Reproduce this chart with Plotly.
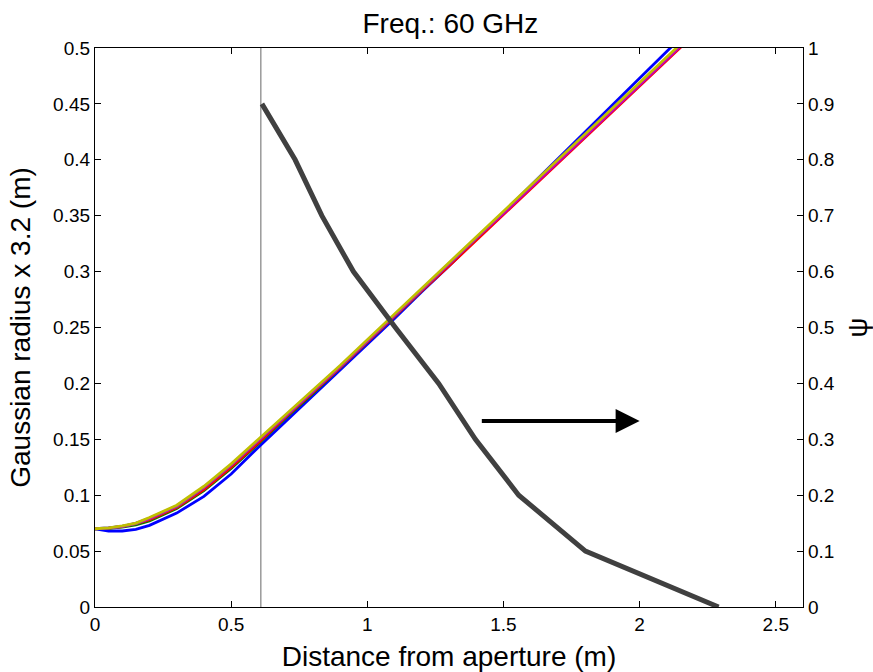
import plotly.graph_objects as go

# Distance from aperture (m) at which the beam radius was sampled
distance = [0.0, 0.05, 0.1, 0.15, 0.2, 0.3, 0.4, 0.5, 0.6, 0.7, 0.8, 0.9, 1.0,
            1.1, 1.2, 1.3, 1.4, 1.5, 1.6, 1.7, 1.8, 1.9, 2.0, 2.1, 2.2]

# Gaussian radius x 3.2 (m) for each fitted beam
radius_b = [0.070, 0.068, 0.068, 0.0695, 0.073, 0.084, 0.099, 0.119, 0.143, 0.166, 0.189,
            0.212, 0.235, 0.258, 0.282, 0.305, 0.329, 0.353, 0.377, 0.401, 0.425,
            0.449, 0.473, 0.497, 0.521]
radius_g = [0.070, 0.0703, 0.0715, 0.0735, 0.077, 0.088, 0.104, 0.124, 0.146, 0.169, 0.191,
            0.214, 0.237, 0.260, 0.283, 0.306, 0.329, 0.352, 0.375, 0.398, 0.421,
            0.444, 0.467, 0.490, 0.513]
radius_r = [0.070, 0.0705, 0.072, 0.0745, 0.078, 0.089, 0.105, 0.125, 0.147, 0.170, 0.192,
            0.214, 0.237, 0.260, 0.283, 0.305, 0.328, 0.351, 0.374, 0.397, 0.420,
            0.443, 0.466, 0.489, 0.512]
radius_c = [0.070, 0.0707, 0.0722, 0.0748, 0.0792, 0.0902, 0.107, 0.127, 0.149, 0.171, 0.193,
            0.215, 0.238, 0.261, 0.284, 0.307, 0.330, 0.353, 0.376, 0.399, 0.422,
            0.445, 0.468, 0.491, 0.514]
radius_m = [0.070, 0.0707, 0.0722, 0.0748, 0.0793, 0.0903, 0.107, 0.127, 0.149, 0.171, 0.193,
            0.215, 0.238, 0.261, 0.284, 0.307, 0.330, 0.352, 0.375, 0.398, 0.421,
            0.444, 0.467, 0.490, 0.513]
radius_y = [0.070, 0.0708, 0.0725, 0.075, 0.080, 0.091, 0.108, 0.128, 0.150, 0.172, 0.194,
            0.216, 0.239, 0.262, 0.285, 0.308, 0.331, 0.354, 0.377, 0.400, 0.423,
            0.446, 0.469, 0.492, 0.515]

# Psi versus distance (right axis)
psi_distance = [0.613, 0.735, 0.833, 0.949, 1.103, 1.262, 1.397, 1.556, 1.801, 2.29]
psi_value = [0.9, 0.8, 0.7, 0.6, 0.5, 0.4, 0.3, 0.2, 0.1, 0.0]

# Reference plane position (m)
marker_distance = 0.609

# Arrow pointing toward the right axis (start/end distance, left-axis height)
arrow_start = 1.415
arrow_end = 2.0
arrow_level = 0.1664

series = [
    (radius_b, "#0000ff"),
    (radius_g, "#008000"),
    (radius_r, "#ff0000"),
    (radius_c, "#00bfbf"),
    (radius_m, "#bf00bf"),
    (radius_y, "#bfbf00"),
]

FONT = "Liberation Sans, Arial, Helvetica, sans-serif"

fig = go.Figure()

fig.add_trace(go.Scatter(
    x=[marker_distance, marker_distance], y=[0, 0.5], mode="lines",
    line=dict(color="#808080", width=1.2), showlegend=False, hoverinfo="skip"))

for vals, col in series:
    fig.add_trace(go.Scatter(x=distance, y=vals, mode="lines",
                             line=dict(color=col, width=2.8), showlegend=False))

fig.add_trace(go.Scatter(x=psi_distance, y=psi_value, mode="lines", yaxis="y2",
                         line=dict(color="#404040", width=5), showlegend=False))

fig.add_annotation(x=arrow_end, y=arrow_level, ax=arrow_start, ay=arrow_level,
                   xref="x", yref="y", axref="x", ayref="y",
                   showarrow=True, arrowhead=2, arrowsize=1.2, arrowwidth=4,
                   arrowcolor="#000000", text="")

axis_common = dict(
    showgrid=False, zeroline=False, showline=True, linecolor="#000000",
    linewidth=1.2, ticks="inside", ticklen=6, tickcolor="#000000", automargin=False,
    tickfont=dict(family=FONT, size=19, color="#000000"),
)

fig.update_layout(
    width=873, height=672,
    margin=dict(l=95, r=70, t=48, b=65),
    paper_bgcolor="#ffffff", plot_bgcolor="#ffffff",
    font=dict(family=FONT, color="#000000"),
    title=dict(text="Freq.: 60 GHz", x=0.502, xanchor="center", y=0.98, yanchor="top",
               xref="paper", font=dict(family=FONT, size=28, color="#000000")),
    xaxis=dict(range=[0, 2.6], tickvals=[0, 0.5, 1, 1.5, 2, 2.5],
               ticktext=["0", "0.5", "1", "1.5", "2", "2.5"], mirror="ticks",
               title=dict(text="Distance from aperture (m)", standoff=12,
                          font=dict(family=FONT, size=28)),
               **axis_common),
    yaxis=dict(range=[0, 0.5], tickvals=[i * 0.05 for i in range(11)],
               ticktext=["0", "0.05", "0.1", "0.15", "0.2", "0.25", "0.3", "0.35",
                         "0.4", "0.45", "0.5"], mirror=True,
               title=dict(text="Gaussian radius x 3.2 (m)", standoff=14,
                          font=dict(family=FONT, size=28)),
               **axis_common),
    yaxis2=dict(range=[0, 1], overlaying="y", side="right",
                tickvals=[i * 0.1 for i in range(11)],
                ticktext=["0", "0.1", "0.2", "0.3", "0.4", "0.5", "0.6", "0.7",
                          "0.8", "0.9", "1"],
                title=dict(text="ψ", standoff=14, font=dict(family=FONT, size=28)),
                **axis_common),
)

fig.write_html("out.html")
